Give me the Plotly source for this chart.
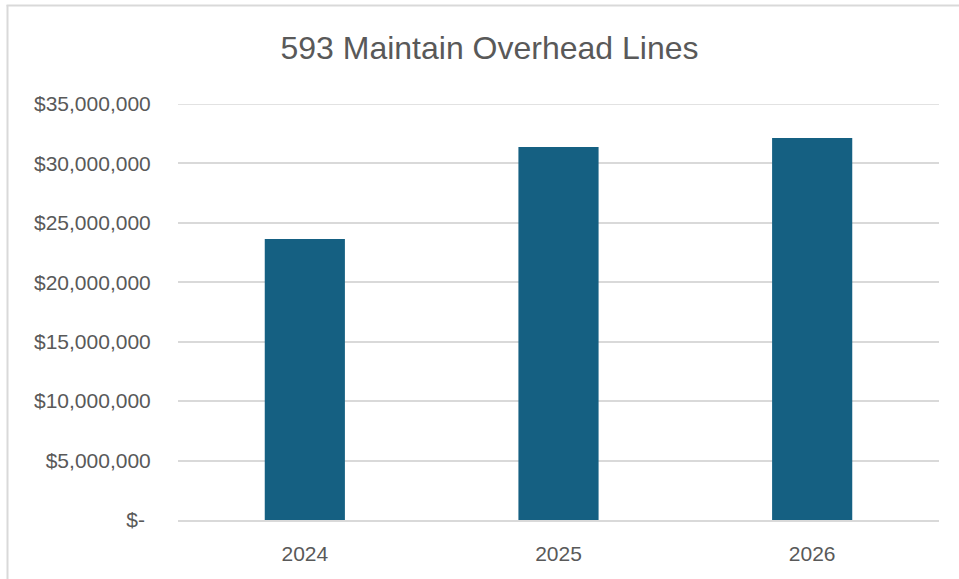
import plotly.graph_objects as go

years = ["2024", "2025", "2026"]
costs = [23640000, 31380000, 32140000]
tick_vals = [0, 5000000, 10000000, 15000000, 20000000, 25000000, 30000000, 35000000]
tick_text = ["$-\u00a0", "$5,000,000", "$10,000,000", "$15,000,000", "$20,000,000",
             "$25,000,000", "$30,000,000", "$35,000,000"]

W, H = 959, 579
ml, mr, mt, mb = 178, 20, 104, 59
pw, ph = W - ml - mr, H - mt - mb

def px_x(x):
    return (x - ml) / pw

def px_y(y):
    return (H - mb - y) / ph

fig = go.Figure(go.Bar(x=years, y=costs, marker=dict(color="#156082", line=dict(width=0)),
                       hoverinfo="x+y"))

border = "#d9d9d9"
fig.update_layout(
    width=W, height=H,
    margin=dict(l=ml, r=mr, t=mt, b=mb),
    paper_bgcolor="white", plot_bgcolor="white",
    bargap=0.684,
    showlegend=False,
    font=dict(family="Liberation Sans, Arial, sans-serif", color="#595959"),
    title=dict(text="593 Maintain Overhead Lines", x=489.5 / W, xanchor="center",
               y=1 - 48 / H, yanchor="middle",
               font=dict(size=32, color="#595959", family="Liberation Sans, Arial, sans-serif")),
    xaxis=dict(showgrid=False, ticks="outside", ticklen=14, tickcolor="rgba(0,0,0,0)",
               tickfont=dict(size=21, color="#595959"), showline=True,
               linecolor=border, linewidth=1.5, zeroline=False),
    yaxis=dict(range=[0, 35000000], tickvals=tick_vals, ticktext=tick_text,
               showgrid=True, gridcolor=border, gridwidth=1.5,
               ticks="outside", ticklen=22, tickcolor="rgba(0,0,0,0)",
               tickfont=dict(size=21, color="#595959"), zeroline=False, showline=False),
    shapes=[
        dict(type="line", xref="paper", yref="y", x0=0, x1=1,
             y0=tick_vals[-1], y1=tick_vals[-1], layer="below",
             line=dict(color=border, width=1.5)),
        dict(type="line", xref="paper", yref="paper", x0=px_x(7.5), x1=px_x(7.5),
             y0=px_y(5), y1=px_y(H + 5), line=dict(color=border, width=2)),
        dict(type="line", xref="paper", yref="paper", x0=px_x(6.5), x1=px_x(W + 5),
             y0=px_y(5.5), y1=px_y(5.5), line=dict(color=border, width=2)),
    ],
)

fig.write_html("out.html")
